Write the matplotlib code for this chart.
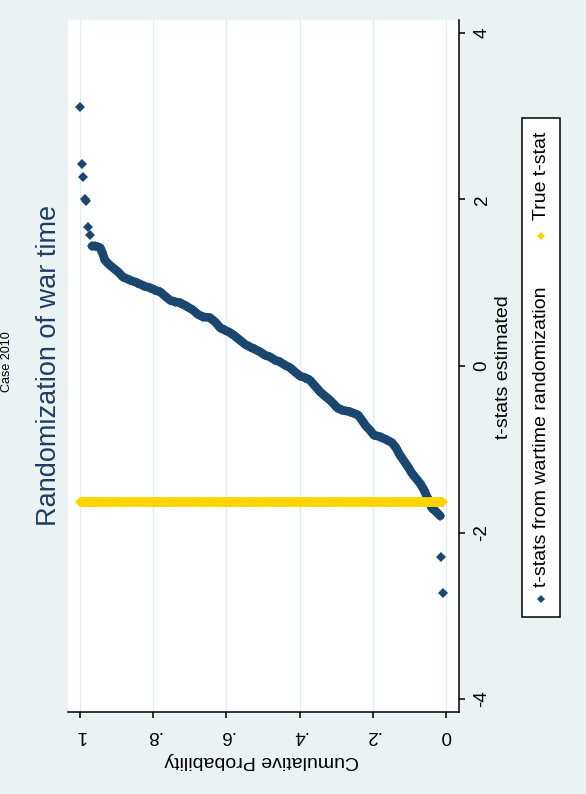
import numpy as np
import matplotlib.pyplot as plt
from matplotlib.lines import Line2D
from matplotlib.patches import Rectangle

plt.rcParams['font.family'] = ['Liberation Sans', 'DejaVu Sans']

# sorted t-stats from the wartime randomization and their cumulative probability
cum_prob = [1.000, 0.996, 0.992, 0.986, 0.984, 0.977, 0.974, 0.967, 0.959, 0.951,
            0.945, 0.940, 0.932, 0.921, 0.910, 0.896, 0.883, 0.863, 0.844, 0.825,
            0.809, 0.795, 0.781, 0.768, 0.754, 0.740, 0.727, 0.710, 0.691, 0.678,
            0.664, 0.645, 0.631, 0.617, 0.604, 0.590, 0.577, 0.563, 0.549, 0.536,
            0.522, 0.508, 0.495, 0.481, 0.467, 0.454, 0.440, 0.426, 0.413, 0.399,
            0.385, 0.372, 0.358, 0.344, 0.331, 0.317, 0.306, 0.298, 0.284, 0.262,
            0.240, 0.230, 0.219, 0.208, 0.197, 0.180, 0.161, 0.148, 0.137, 0.126,
            0.115, 0.104, 0.093, 0.082, 0.071, 0.060, 0.052, 0.044, 0.038, 0.027,
            0.016, 0.014, 0.008]
t_rand = [3.11, 2.43, 2.27, 2.01, 1.98, 1.67, 1.57, 1.44, 1.44, 1.43,
          1.42, 1.37, 1.27, 1.22, 1.18, 1.13, 1.07, 1.03, 1.00, 0.96,
          0.94, 0.91, 0.89, 0.84, 0.79, 0.77, 0.76, 0.72, 0.67, 0.62,
          0.59, 0.58, 0.53, 0.46, 0.43, 0.40, 0.36, 0.31, 0.26, 0.23,
          0.20, 0.17, 0.13, 0.11, 0.07, 0.05, 0.01, -0.02, -0.07, -0.12,
          -0.14, -0.17, -0.24, -0.31, -0.36, -0.41, -0.46, -0.50, -0.53, -0.55,
          -0.59, -0.65, -0.72, -0.77, -0.83, -0.85, -0.89, -0.92, -0.98, -1.07,
          -1.14, -1.21, -1.29, -1.35, -1.41, -1.49, -1.57, -1.65, -1.71, -1.75,
          -1.80, -2.29, -2.73]
true_t = -1.63

prob_ticks = [0, 0.2, 0.4, 0.6, 0.8, 1]
prob_labels = ['0', '.2', '.4', '.6', '.8', '1']
t_ticks = [-4, -2, 0, 2, 4]

navy = '#1a476f'
gold = '#ffd400'
bg = '#eaf2f3'

W, H = 586, 794
fig = plt.figure(figsize=(W / 100, H / 100), dpi=100, facecolor=bg)


def fx(px):
    return px / W


def fy(py):
    return 1 - py / H


ax = fig.add_axes([fx(68), fy(712), fx(459 - 68), (712 - 20) / H])
ax.set_facecolor('white')

# graph is laid on its side: probability runs right-to-left, t-stat upward
ax.set_xlim(1.033, -0.0355)
ax.set_ylim(-4.156, 4.156)

for p in prob_ticks:
    ax.axvline(p, color='#e1eaed', lw=0.9, zorder=0)

cp = np.array(cum_prob)
tr = np.array(t_rand)
# dense middle part merges into one band; the tails stay as single diamonds
body = slice(7, 81)
ax.plot(cp[body], tr[body], color=navy, lw=6.3, solid_capstyle='round', zorder=2)
ax.plot(cp, tr, 'D', color=navy, ms=5.2, mew=0, zorder=3)

true_line = np.full(len(cp), true_t)
ax.plot(cp, true_line, color=gold, lw=7, solid_capstyle='butt', zorder=4)
ax.plot(cp, true_line, 'D', color=gold, ms=5.2, mew=0, zorder=4)

for s in ['left', 'top']:
    ax.spines[s].set_visible(False)
for s in ['right', 'bottom']:
    ax.spines[s].set_linewidth(1.1)

ax.set_xticks(prob_ticks)
ax.set_xticklabels(prob_labels, rotation=180, fontsize=13.5)
ax.yaxis.tick_right()
ax.set_yticks(t_ticks)
ax.set_yticklabels([str(v) for v in t_ticks], rotation=90, fontsize=13.5, va='center')
ax.tick_params(axis='x', length=4.5, width=1.1, pad=6)
ax.tick_params(axis='y', length=4.5, width=1.1, pad=6)

fig.text(fx(262), fy(760), 'Cumulative Probability', rotation=180,
         ha='center', va='center', fontsize=14)
fig.text(fx(504), fy(367), 't-stats estimated', rotation=90,
         ha='center', va='center', fontsize=14)
fig.text(fx(49), fy(365), 'Randomization of war time', rotation=90,
         ha='center', va='center', fontsize=19.5, color='#1e3d63')
fig.text(fx(1), fy(362), 'Case 2010', rotation=90,
         ha='left', va='center', fontsize=9, color='black')

# legend box
fig.add_artist(Rectangle((fx(522), fy(617)), fx(560 - 522), (617 - 118) / H,
                         transform=fig.transFigure, facecolor='white',
                         edgecolor='black', lw=1.1))
fig.add_artist(Line2D([fx(541)], [fy(599)], marker='D', color=navy, ms=4.5,
                      mew=0, transform=fig.transFigure))
fig.text(fx(541), fy(587), 't-stats from wartime randomization', rotation=90,
         ha='center', va='bottom', fontsize=14)
fig.add_artist(Line2D([fx(541)], [fy(236)], marker='D', color=gold, ms=4.5,
                      mew=0, transform=fig.transFigure))
fig.text(fx(541), fy(220), 'True t-stat', rotation=90,
         ha='center', va='bottom', fontsize=14)

fig.savefig('out.png', dpi=100, facecolor=bg)
